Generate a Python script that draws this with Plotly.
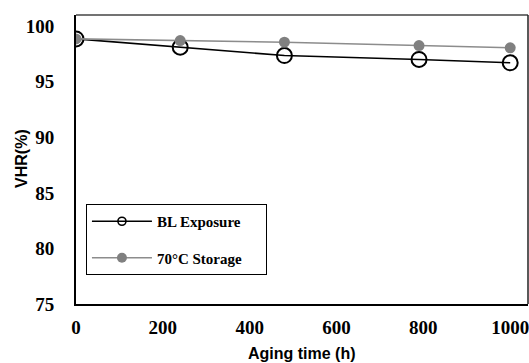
import plotly.graph_objects as go

aging_time = [0, 240, 480, 790, 1000]
bl_exposure = [98.85, 98.1, 97.35, 97.0, 96.7]
storage_70c = [98.85, 98.7, 98.55, 98.25, 98.05]
x_ticks = [0, 200, 400, 600, 800, 1000]
y_ticks = [75, 80, 85, 90, 95, 100]
series_names = ["BL Exposure", "70°C Storage"]
x_title = "Aging time (h)"
y_title = "VHR(%)"

fig = go.Figure()
fig.add_trace(go.Scatter(
    x=aging_time, y=bl_exposure, name=series_names[0], mode="lines+markers",
    line=dict(color="black", width=1.6),
    marker=dict(symbol="circle-open", size=15, color="black", line=dict(width=2)),
    showlegend=False,
))
fig.add_trace(go.Scatter(
    x=aging_time, y=storage_70c, name=series_names[1], mode="lines+markers",
    line=dict(color="#8c8c8c", width=1.6),
    marker=dict(symbol="circle", size=11, color="#808080"),
    showlegend=False,
))
# legend entries with smaller symbols (as in the reference legend)
pad = "\u00a0" * 5
fig.add_trace(go.Scatter(
    x=[None], y=[None], name=series_names[0] + pad, mode="lines+markers",
    line=dict(color="black", width=1.6),
    marker=dict(symbol="circle-open", size=8, color="black", line=dict(width=1.6)),
    legendgroup="a",
))
fig.add_trace(go.Scatter(
    x=[None], y=[None], name=series_names[1] + pad, mode="lines+markers",
    line=dict(color="#8c8c8c", width=1.6),
    marker=dict(symbol="circle", size=10, color="#808080"),
    legendgroup="b",
))

tickfont = dict(family="Liberation Serif", size=19, color="black", weight="bold")
titlefont = dict(family="Liberation Sans", size=16, color="black", weight="bold")

fig.update_layout(
    width=529, height=363,
    margin=dict(l=76, r=1, t=15, b=59, autoexpand=False),
    paper_bgcolor="white", plot_bgcolor="white",
    showlegend=True,
    legend=dict(
        x=0.022, y=0.346, xanchor="left", yanchor="top",
        bordercolor="black", borderwidth=1, bgcolor="white",
        font=dict(family="Liberation Serif", size=15, color="black", weight="bold"),
        tracegroupgap=14, itemwidth=60,
    ),
    xaxis=dict(
        range=[0, 1041], tickvals=x_ticks, showgrid=False, zeroline=False,
        showline=True, linecolor="black", linewidth=2, automargin=False,
        tickfont=tickfont, ticks="", ticklabelstandoff=5, ticklabeloverflow="allow",
    ),
    yaxis=dict(
        range=[75, 101], tickvals=y_ticks, showgrid=False, zeroline=False,
        showline=True, linecolor="black", linewidth=2, automargin=False,
        tickfont=tickfont, ticks="", ticklabelstandoff=16, ticklabeloverflow="allow",
    ),
    annotations=[
        dict(text=x_title, xref="paper", yref="paper", x=0.5, y=-0.172,
             xanchor="center", yanchor="middle", showarrow=False, font=titlefont),
        dict(text=y_title, xref="paper", yref="paper", x=-0.122, y=0.505,
             xanchor="center", yanchor="middle", showarrow=False, font=titlefont,
             textangle=-90),
    ],
    shapes=[
        dict(type="line", xref="paper", yref="paper", x0=0, x1=1, y0=1, y1=1,
             line=dict(color="#444", width=1.5)),
        dict(type="line", xref="paper", yref="paper", x0=1, x1=1, y0=0, y1=1,
             line=dict(color="#222", width=1.5)),
    ],
)

fig.write_html("out.html", config={"displayModeBar": False},
               post_script="document.body.style.margin='0';")
